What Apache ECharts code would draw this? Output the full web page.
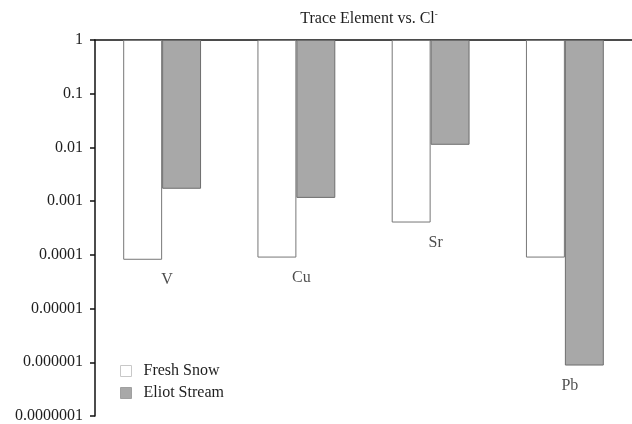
<!DOCTYPE html>
<html><head><meta charset="utf-8">
<script src="https://cdn.jsdelivr.net/npm/echarts@6/dist/echarts.min.js"></script>
<style>html,body{margin:0;padding:0;background:#fff}#c{width:632px;height:424px}</style>
</head><body><div id="c"></div>
<script>
const categories = ['V', 'Cu', 'Sr', 'Pb'];
const freshSnow = [0.000081, 0.000089, 0.00040, 0.000089];
const eliotStream = [0.0017, 0.00115, 0.0112, 0.00000087];
const tickExponents = [0, -1, -2, -3, -4, -5, -6, -7];

const lg = a => a.map(v => Math.log10(v));
const lowest = categories.map((c, i) => Math.log10(Math.min(freshSnow[i], eliotStream[i])));
const fmt = v => v === 0 ? '1' : '0.' + '0'.repeat(-v - 1) + '1';
const font = '"Liberation Serif", "Times New Roman", serif';
const txt = '#1e1e1e';

const chart = echarts.init(document.getElementById('c'));
chart.setOption({
  animation: false,
  title: {
    text: 'Trace Element vs. {sup|Cl}{s|-}',
    left: 364, top: 5, textAlign: 'center',
    textStyle: {
      fontFamily: font, fontSize: 16, fontWeight: 'normal', color: txt,
      rich: { sup: { fontFamily: font, fontSize: 16, color: txt },
              s: { fontFamily: font, fontSize: 9, color: txt, verticalAlign: 'top', padding: [0,0,8,0] } }
    }
  },
  legend: {
    orient: 'vertical', left: 120, top: 363, padding: 0, itemWidth: 11, itemHeight: 11, itemGap: 6,
    icon: 'rect',
    textStyle: { fontFamily: font, fontSize: 16, lineHeight: 16, color: txt, padding: [0, 0, 0, 7] },
    data: [
      { name: 'Fresh Snow', itemStyle: { color: '#fff', borderColor: '#c8c8c8', borderWidth: 1 } },
      { name: 'Eliot Stream', itemStyle: { color: '#a8a8a8', borderColor: '#a0a0a0', borderWidth: 1 } }
    ]
  },
  grid: { left: 95, right: -3, top: 40, bottom: 7 },
  xAxis: {
    type: 'category', data: categories, position: 'top',
    axisLine: { lineStyle: { color: '#111', width: 1.5 } },
    axisTick: { inside: true, length: 4, lineStyle: { color: '#111', width: 1.5 } },
    axisLabel: { show: false }, splitLine: { show: false }
  },
  yAxis: {
    type: 'value', min: -7, max: 0, interval: 1,
    axisLine: { show: true, lineStyle: { color: '#111', width: 1.5 } },
    axisTick: { show: true, length: 5, lineStyle: { color: '#111', width: 1.5 } },
    axisLabel: { formatter: fmt, fontFamily: font, fontSize: 16, color: txt, margin: 12 },
    splitLine: { show: false }
  },
  series: [
    { name: 'Fresh Snow', type: 'bar', data: lg(freshSnow), barGap: '0%', barCategoryGap: '42%',
      itemStyle: { color: '#ffffff', borderColor: '#777', borderWidth: 1 } },
    { name: 'Eliot Stream', type: 'bar', data: lg(eliotStream),
      itemStyle: { color: '#a8a8a8', borderColor: '#6e6e6e', borderWidth: 1 } },
    { name: 'labels', type: 'scatter', data: lowest, symbolSize: 0, silent: true,
      label: { show: true, position: 'bottom', distance: 12, offset: [5, 0],
        formatter: p => categories[p.dataIndex],
        fontFamily: font, fontSize: 16, color: txt } }
  ]
});
</script></body></html>
